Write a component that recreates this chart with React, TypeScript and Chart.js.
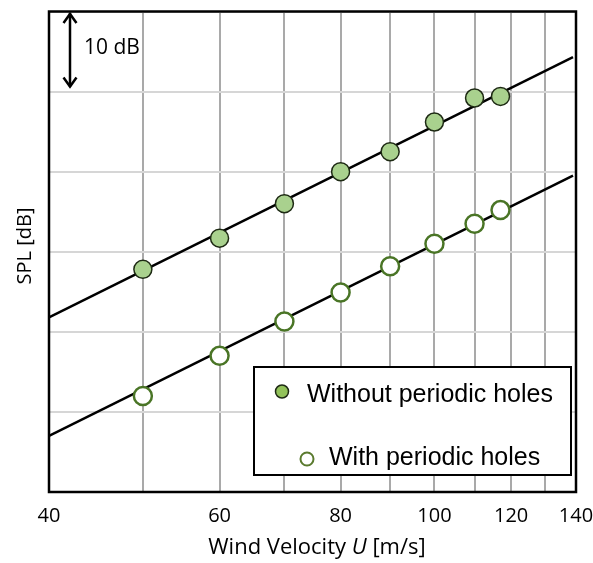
import React, { useEffect, useRef } from "react";
import { Chart, registerables } from "chart.js";

Chart.register(...registerables);

// ---- data ----
const velocities = [50, 60, 70, 80, 90, 100, 110, 117];
const splWithout = [67.8, 71.7, 76.0, 80.0, 82.5, 86.2, 89.2, 89.4];
const splWith = [52.0, 57.0, 61.3, 64.9, 68.2, 71.0, 73.5, 75.2];
const fitX = [40, 139];
const fitWithout = [61.8, 94.3];
const fitWith = [47.0, 79.5];
const xGridValues = [40, 50, 60, 70, 80, 90, 100, 110, 120, 130, 140];
const xTickLabels = [40, 60, 80, 100, 120, 140];
const yMin = 40;
const yMax = 100;
const yStep = 10;
const legendLabels = ["Without periodic holes", "With periodic holes"];
const xTitleParts = ["Wind Velocity ", "U", " [m/s]"];
const yTitle = "SPL [dB]";
const scaleNote = "10 dB";

const FILL_GREEN = "#a9d18e";
const DARK_GREEN = "#4a7526";
const AXIS_FONT = "'Open Sans', 'Noto Sans', sans-serif";
const LEGEND_FONT = "'Liberation Sans', Arial, sans-serif";

const overlayPlugin = {
  id: "overlay",
  afterDraw(chart: any) {
    const ctx = chart.ctx as CanvasRenderingContext2D;
    const ca = chart.chartArea;
    ctx.save();

    // plot border
    ctx.strokeStyle = "#000";
    ctx.lineWidth = 2.5;
    ctx.strokeRect(ca.left, ca.top, ca.right - ca.left, ca.bottom - ca.top);

    // 10 dB arrow
    const ax = ca.left + 21;
    const ay0 = ca.top + 1.5;
    const ay1 = ca.top + 75;
    ctx.lineWidth = 2.5;
    ctx.lineCap = "butt";
    ctx.lineJoin = "miter";
    ctx.beginPath();
    ctx.moveTo(ax, ay0);
    ctx.lineTo(ax, ay1);
    ctx.stroke();
    ctx.beginPath();
    ctx.moveTo(ax - 6.5, ay0 + 10);
    ctx.lineTo(ax, ay0 + 1);
    ctx.lineTo(ax + 6.5, ay0 + 10);
    ctx.stroke();
    ctx.beginPath();
    ctx.moveTo(ax - 6.5, ay1 - 9);
    ctx.lineTo(ax, ay1);
    ctx.lineTo(ax + 6.5, ay1 - 9);
    ctx.stroke();
    ctx.fillStyle = "#000";
    ctx.font = `21px ${AXIS_FONT}`;
    ctx.textAlign = "left";
    ctx.textBaseline = "alphabetic";
    ctx.fillText(scaleNote, ca.left + 35, ca.top + 42);

    // legend box
    const bx = ca.right - 322;
    const by = ca.bottom - 125;
    const bw = 317;
    const bh = 108;
    ctx.fillStyle = "#fff";
    ctx.fillRect(bx, by, bw, bh);
    ctx.strokeStyle = "#000";
    ctx.lineWidth = 2;
    ctx.strokeRect(bx, by, bw, bh);

    // legend markers
    ctx.beginPath();
    ctx.arc(bx + 28, by + 24.5, 6.5, 0, Math.PI * 2);
    ctx.fillStyle = "#92c25a";
    ctx.fill();
    ctx.lineWidth = 1.5;
    ctx.strokeStyle = "#1e2a14";
    ctx.stroke();

    ctx.beginPath();
    ctx.arc(bx + 53, by + 92, 6.5, 0, Math.PI * 2);
    ctx.fillStyle = "#fff";
    ctx.fill();
    ctx.lineWidth = 2;
    ctx.strokeStyle = "#5a7a2e";
    ctx.stroke();

    ctx.fillStyle = "#000";
    ctx.font = `25px ${LEGEND_FONT}`;
    ctx.textAlign = "left";
    ctx.textBaseline = "alphabetic";
    ctx.fillText(legendLabels[0], bx + 53, by + 34.5);
    ctx.fillText(legendLabels[1], bx + 75, by + 98);

    // x title with italic U
    const fontNormal = `22px ${AXIS_FONT}`;
    const fontItalic = `italic 22px ${AXIS_FONT}`;
    const fonts = [fontNormal, fontItalic, fontNormal];
    let total = 0;
    const widths = xTitleParts.map((t, i) => {
      ctx.font = fonts[i];
      const w = ctx.measureText(t).width;
      total += w;
      return w;
    });
    let tx = 317 - total / 2;
    const ty = ca.bottom + 62;
    xTitleParts.forEach((t, i) => {
      ctx.font = fonts[i];
      ctx.fillText(t, tx, ty);
      tx += widths[i];
    });

    // y title
    ctx.translate(25, 246);
    ctx.rotate(-Math.PI / 2);
    ctx.font = `20px ${AXIS_FONT}`;
    ctx.textAlign = "center";
    ctx.textBaseline = "middle";
    ctx.fillText(yTitle, 0, 0);

    ctx.restore();
  },
};

export default function App() {
  const canvasRef = useRef<HTMLCanvasElement | null>(null);

  useEffect(() => {
    const canvas = canvasRef.current;
    if (!canvas) return;
    const toPts = (xs: number[], ys: number[]) => xs.map((x, i) => ({ x, y: ys[i] }));

    const chart = new Chart(canvas, {
      type: "scatter",
      data: {
        datasets: [
          {
            label: legendLabels[0],
            data: toPts(velocities, splWithout),
            showLine: false,
            pointRadius: 9,
            pointBackgroundColor: FILL_GREEN,
            pointBorderColor: "#1e2a14",
            pointBorderWidth: 1.5,
            order: 0,
          },
          {
            label: legendLabels[1],
            data: toPts(velocities, splWith),
            showLine: false,
            pointRadius: 9,
            pointBackgroundColor: "#ffffff",
            pointBorderColor: DARK_GREEN,
            pointBorderWidth: 2.5,
            order: 0,
          },
          {
            label: "fit1",
            data: toPts(fitX, fitWithout),
            showLine: true,
            borderColor: "#000",
            borderWidth: 2.5,
            pointRadius: 0,
            order: 1,
          },
          {
            label: "fit2",
            data: toPts(fitX, fitWith),
            showLine: true,
            borderColor: "#000",
            borderWidth: 2.5,
            pointRadius: 0,
            order: 1,
          },
        ],
      },
      options: {
        animation: false,
        responsive: false,
        layout: { padding: { left: 0, right: 17, top: 10, bottom: 0 } },
        plugins: {
          legend: { display: false },
          tooltip: { enabled: false },
        },
        scales: {
          x: {
            type: "logarithmic",
            min: 40,
            max: 140,
            afterBuildTicks: (scale: any) => {
              scale.ticks = xGridValues.map((v) => ({ value: v }));
            },
            afterFit: (scale: any) => {
              scale.height = 71;
              scale.paddingLeft = 0;
              scale.paddingRight = 0;
            },
            ticks: {
              autoSkip: false,
              maxRotation: 0,
              color: "#000",
              padding: 12,
              font: { family: AXIS_FONT, size: 20 },
              callback: (value: any) =>
                xTickLabels.includes(Number(value)) ? String(value) : "",
            },
            grid: { color: "#a9a9a9", lineWidth: 2, drawTicks: false },
            border: { display: false },
          },
          y: {
            type: "linear",
            min: yMin,
            max: yMax,
            afterFit: (scale: any) => {
              scale.width = 49;
              scale.paddingTop = 0;
              scale.paddingBottom = 0;
            },
            ticks: { display: false, stepSize: yStep },
            grid: { color: "#d6d6d6", lineWidth: 2, drawTicks: false },
            border: { display: false },
          },
        },
      },
      plugins: [overlayPlugin],
    } as any);

    return () => chart.destroy();
  }, []);

  return (
    <div style={{ position: "absolute", left: 0, top: 0, width: 593, height: 563, background: "#fff" }}>
      <canvas ref={canvasRef} width={593} height={563} />
    </div>
  );
}
